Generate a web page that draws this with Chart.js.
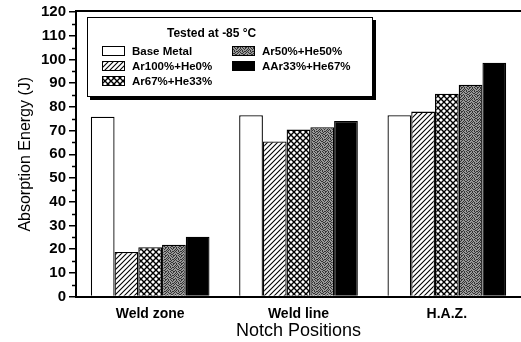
<!DOCTYPE html>
<html>
<head>
<meta charset="utf-8">
<script src="https://cdn.jsdelivr.net/npm/chart.js@4/dist/chart.umd.min.js"></script>
<style>
  html, body { margin: 0; padding: 0; background: #fff; overflow: hidden; }
  #wrap { width: 521px; height: 342px; position: relative; }
</style>
</head>
<body>
<div id="wrap"><canvas id="c" width="521" height="342"></canvas></div>
<script>
// Charpy absorption energy by notch position and shielding gas mix
const categories = ['Weld zone', 'Weld line', 'H.A.Z.'];
const seriesLabels = ['Base Metal', 'Ar100%+He0%', 'Ar67%+He33%', 'Ar50%+He50%', 'AAr33%+He67%'];
const baseMetal = [75.8, 76.5, 76.5];
const ar100He0  = [18.8, 65.4, 78.0];
const ar67He33  = [20.8, 70.4, 85.5];
const ar50He50  = [21.8, 71.4, 89.3];
const ar33He67  = [25.2, 74.0, 98.6];
const yMin = 0, yMax = 120, yStep = 10, yMinorStep = 5;
const legendTitle = 'Tested at -85 °C';
const yTitle = 'Absorption Energy (J)';
const xTitle = 'Notch Positions';

const FONT = '"Liberation Sans", Arial, sans-serif';

// ---- fill patterns ----
function tile(size, draw) {
  const c = document.createElement('canvas');
  c.width = size; c.height = size;
  const g = c.getContext('2d');
  g.fillStyle = '#fff';
  g.fillRect(0, 0, size, size);
  draw(g, size);
  return document.createElement('canvas').getContext('2d').createPattern(c, 'repeat');
}
const hatchFill = tile(5, (g, s) => {
  g.strokeStyle = '#000'; g.lineWidth = 1.1;
  g.beginPath();
  g.moveTo(-1, s + 1); g.lineTo(s + 1, -1);
  g.moveTo(-1, 1); g.lineTo(1, -1);
  g.moveTo(s - 1, s + 1); g.lineTo(s + 1, s - 1);
  g.stroke();
});
const crossFill = tile(6, (g, s) => {
  g.strokeStyle = '#000'; g.lineWidth = 1.4;
  g.beginPath();
  g.moveTo(-1, -1); g.lineTo(s + 1, s + 1);
  g.moveTo(-1, s + 1); g.lineTo(s + 1, -1);
  g.stroke();
});
const stippleBits = [
  '10010100',
  '01001001',
  '10100010',
  '00101101',
  '10010010',
  '01100100',
  '00011001',
  '10100110'
];
const stippleFill = tile(8, (g, s) => {
  g.fillStyle = '#9a9a9a';
  g.fillRect(0, 0, s, s);
  g.fillStyle = '#333';
  stippleBits.forEach((row, y) => {
    [...row].forEach((b, x) => { if (b === '1') g.fillRect(x, y, 1, 1); });
  });
});

const fills = ['#ffffff', hatchFill, crossFill, stippleFill, '#000000'];
const seriesValues = [baseMetal, ar100He0, ar67He33, ar50He50, ar33He67];

// ---- frame, minor ticks and boxed legend ----
const decorations = {
  id: 'decorations',
  afterDraw(chart) {
    const { ctx, chartArea: a, scales: { y } } = chart;
    ctx.save();
    // top frame line
    ctx.strokeStyle = '#000';
    ctx.lineWidth = 2;
    ctx.beginPath();
    ctx.moveTo(a.left - 1, a.top - 1);
    ctx.lineTo(a.right, a.top - 1);
    ctx.stroke();
    // minor ticks
    ctx.lineWidth = 1.5;
    ctx.beginPath();
    for (let v = yMin + yMinorStep; v < yMax; v += yStep) {
      const py = Math.round(y.getPixelForValue(v)) + 0.5;
      ctx.moveTo(a.left - 4, py);
      ctx.lineTo(a.left, py);
    }
    ctx.stroke();

    // legend box with drop shadow
    const bx = a.left + 11, by = a.top + 5, bw = 286, bh = 80;
    ctx.fillStyle = '#000';
    ctx.fillRect(bx + 3, by + 3, bw, bh);
    ctx.fillStyle = '#fff';
    ctx.fillRect(bx, by, bw, bh);
    ctx.lineWidth = 1;
    ctx.strokeStyle = '#000';
    ctx.strokeRect(bx + 0.5, by + 0.5, bw - 1, bh - 1);

    ctx.fillStyle = '#000';
    ctx.textBaseline = 'middle';
    ctx.textAlign = 'left';
    ctx.font = 'bold 12px ' + FONT;
    ctx.fillText(legendTitle, bx + 80, by + 17);

    ctx.font = 'bold 11.5px ' + FONT;
    const ds = chart.data.datasets;
    ds.forEach((d, i) => {
      const col = Math.floor(i / 3), row = i % 3;
      const sx = bx + 15 + col * 130;
      const sy = by + 34 + row * 15;
      ctx.fillStyle = d.backgroundColor;
      ctx.fillRect(sx, sy - 5, 23, 10);
      ctx.strokeStyle = '#000';
      ctx.lineWidth = 1;
      ctx.strokeRect(sx + 0.5, sy - 4.5, 22, 9);
      ctx.fillStyle = '#000';
      ctx.fillText(d.label, sx + 30, sy + 0.5);
    });
    ctx.restore();
  }
};

new Chart(document.getElementById('c'), {
  type: 'bar',
  data: {
    labels: categories,
    datasets: seriesLabels.map((label, i) => ({
      label,
      data: seriesValues[i],
      backgroundColor: fills[i],
      borderColor: '#000',
      borderWidth: 1.3,
      borderSkipped: 'bottom'
    }))
  },
  options: {
    responsive: false,
    animation: false,
    devicePixelRatio: 1,
    layout: { padding: { top: 12, right: 0, left: 0, bottom: 0 } },
    datasets: { bar: { categoryPercentage: 0.8, barPercentage: 1.0 } },
    plugins: { legend: { display: false }, tooltip: { enabled: false } },
    scales: {
      x: {
        grid: { display: false, drawTicks: false },
        border: { display: true, color: '#000', width: 2 },
        ticks: { color: '#000', padding: 9, font: { family: FONT, size: 14, weight: 'bold' } },
        title: { display: true, text: xTitle, color: '#000', padding: { top: 0, bottom: 0 },
                 font: { family: FONT, size: 18 } },
        afterFit(s) { s.height = 45.5; }
      },
      y: {
        min: yMin, max: yMax,
        grid: { drawOnChartArea: false, drawTicks: true, tickLength: 7, color: '#000', lineWidth: 1.5 },
        border: { display: true, color: '#000', width: 2 },
        ticks: { stepSize: yStep, color: '#000', padding: 3, font: { family: FONT, size: 15, weight: 'bold' } },
        title: { display: true, text: yTitle, color: '#000', padding: { top: 16, bottom: 0 },
                 font: { family: FONT, size: 16 } },
        afterFit(s) { s.width = 76; }
      }
    }
  },
  plugins: [decorations]
});
</script>
</body>
</html>
